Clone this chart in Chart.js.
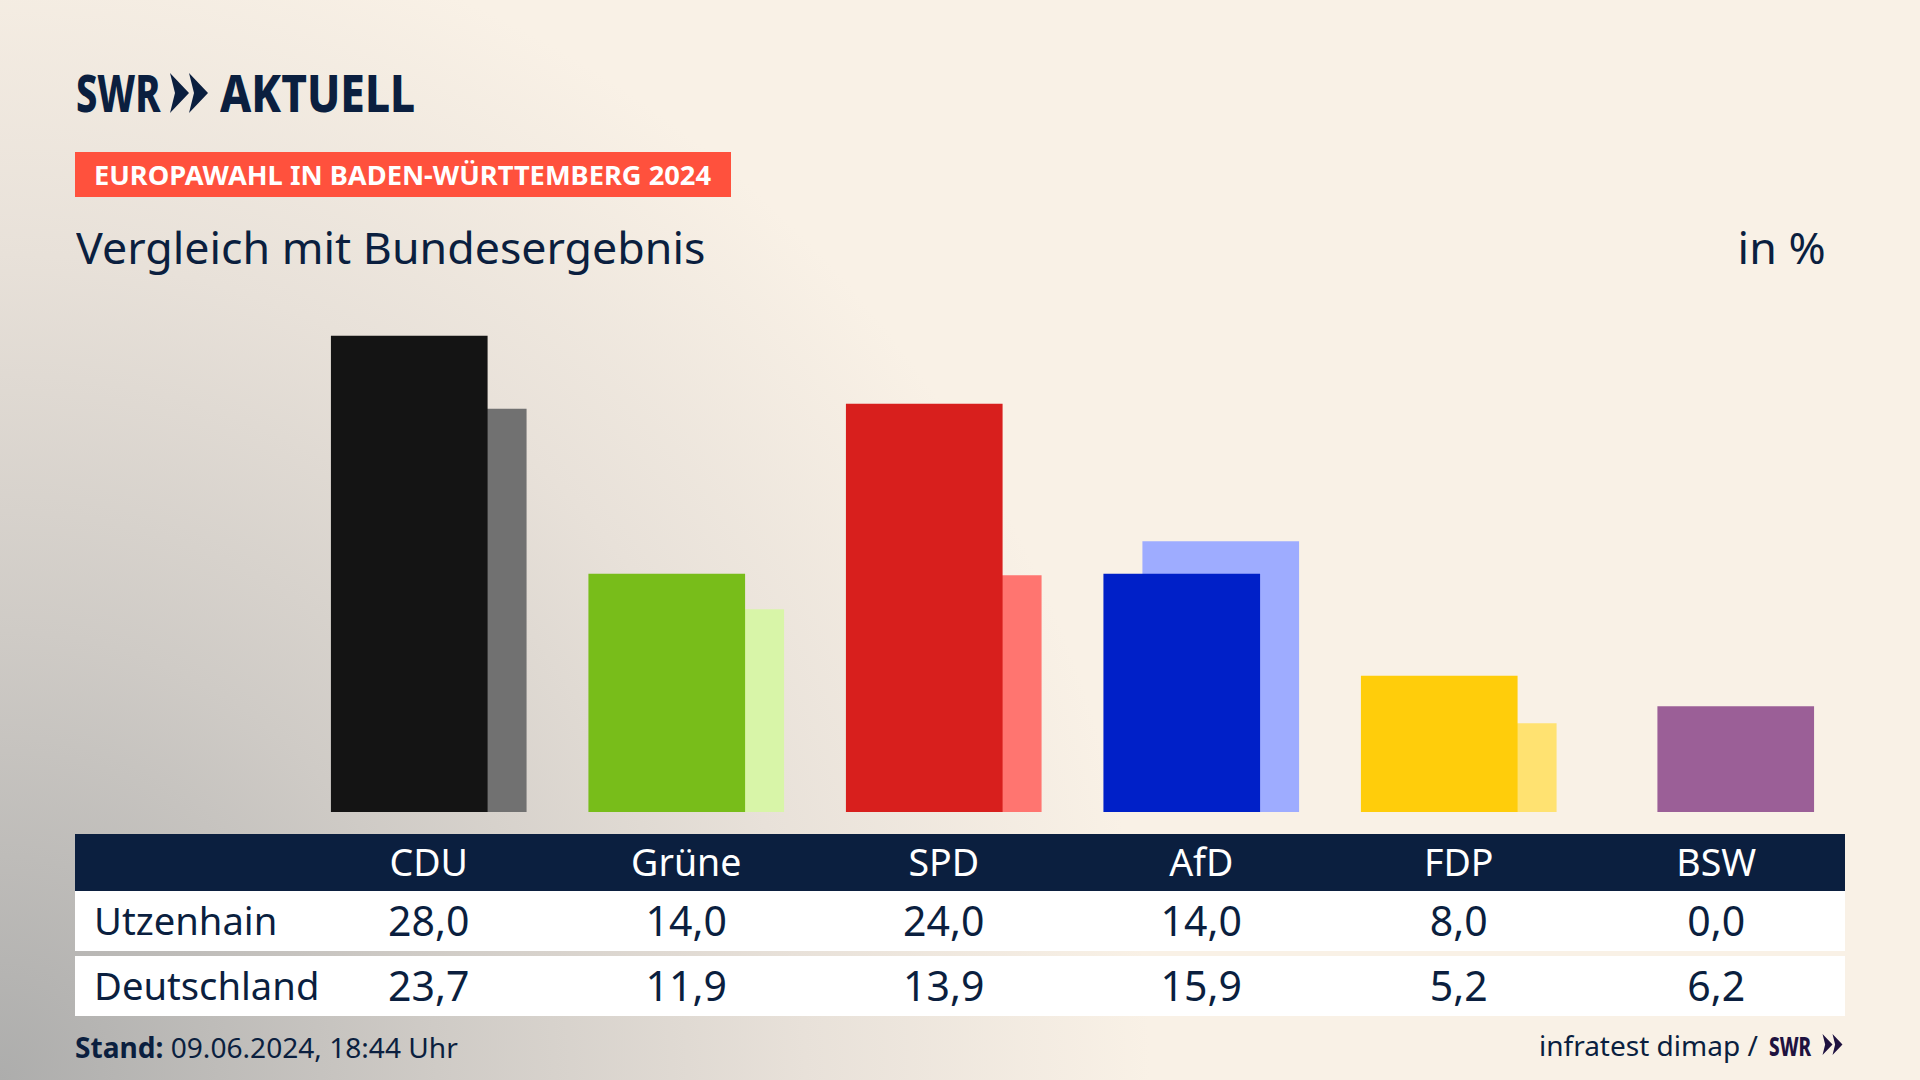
<!DOCTYPE html>
<html lang="de">
<head>
<meta charset="utf-8">
<title>Vergleich mit Bundesergebnis</title>
<script src="https://cdn.jsdelivr.net/npm/chart.js@4"></script>
<style>
    html, body { margin: 0; padding: 0; }
    body {
        position: relative;
        width: 1920px;
        height: 1080px;
        overflow: hidden;
        font-family: "Noto Sans", sans-serif;
        color: #0b1f3f;
        background: radial-gradient(ellipse 1150px 1180px at 0 100%, #adadac 0%, #cfcbc6 38%, #e8e1d9 70%, #f9f1e6 100%) #f9f1e6;
    }
    .abs { position: absolute; white-space: nowrap; line-height: 1; }
    .logo { font-weight: 800; transform-origin: left center; }
    #tag { left: 75px; top: 152px; width: 656px; height: 45px; background: #ff513d; }
    #tagText { left: 94px; top: 161px; font-size: 27.25px; font-weight: 700; color: #fff; }
    #title { left: 76px; top: 226px; font-size: 43px; transform: scaleX(1.04); transform-origin: left center; }
    #unit { right: 94px; top: 226px; font-size: 43px; transform: scaleX(1.04); transform-origin: right center; }
    #chartBox { position: absolute; left: 300px; top: 302px; width: 1545px; height: 510px; }
    #table { position: absolute; left: 75px; top: 834px; width: 1770px; }
    .row { display: grid; grid-template-columns: 225px repeat(6, 257.5px); font-size: 41px; align-items: center; }
    .row div { text-align: center; position: relative; top: -1px; }
    .row div:first-child { text-align: left; padding-left: 19px; font-size: 38.2px; }
    #head { height: 57px; background: #0b1f3f; color: #fff; font-size: 37.5px; }
    .data { height: 60px; background: #fff; }
    #row1 { margin-bottom: 5px; }
    #stand { left: 75px; top: 1033px; font-size: 28.1px; }
    #source { left: 1539px; top: 1031px; font-size: 28px; }
</style>
</head>
<body>
    <div class="abs logo" style="left:76px;top:66px;font-size:52px;transform:scaleX(.73);">SWR</div>
    <svg class="abs" style="left:170px;top:73px" width="38" height="40" viewBox="0 0 38 40" aria-hidden="true">
        <polygon points="0,0 19,20 0,40 5,20" fill="#0b1f3f"/>
        <polygon points="19,0 38,20 19,40 24,20" fill="#0b1f3f"/>
    </svg>
    <div class="abs logo" style="left:220px;top:66px;font-size:52px;transform:scaleX(.85);">AKTUELL</div>

    <div class="abs" id="tag"></div>
    <div class="abs" id="tagText">EUROPAWAHL IN BADEN-WÜRTTEMBERG 2024</div>
    <div class="abs" id="title">Vergleich mit Bundesergebnis</div>
    <div class="abs" id="unit">in %</div>

    <div id="chartBox"><canvas id="electionChart"></canvas></div>

    <div id="table">
        <div class="row" id="head"></div>
        <div class="row data" id="row1"></div>
        <div class="row data" id="row2"></div>
    </div>

    <div class="abs" id="stand"><b>Stand:</b> 09.06.2024, 18:44 Uhr</div>
    <div class="abs" id="source">infratest dimap /</div>
    <div class="abs logo" style="left:1769px;top:1032px;font-size:27px;color:#1f1240;transform:scaleX(.7);">SWR</div>
    <svg class="abs" style="left:1821px;top:1034px" width="23" height="21" viewBox="0 0 38 40" aria-hidden="true">
        <polygon points="0,0 19,20 0,40 5,20" fill="#1f1240"/>
        <polygon points="19,0 38,20 19,40 24,20" fill="#1f1240"/>
    </svg>

<script>
// values
const parties = ['CDU', 'Grüne', 'SPD', 'AfD', 'FDP', 'BSW'];
const utzenhain = [28.0, 14.0, 24.0, 14.0, 8.0, 0.0];
const deutschland = [23.7, 11.9, 13.9, 15.9, 5.2, 6.2];
const rowNames = ['Utzenhain', 'Deutschland'];
const partyColors = ['#141414', '#78bd1a', '#d81f1d', '#0020c8', '#ffcd0b', '#9b5f97'];
const nationalColors = ['#717171', '#d8f5a8', '#ff7570', '#9eacff', '#ffe271', '#9b5f97'];

function fmt(v) {
    return v.toFixed(1).replace('.', ',');
}

function fillRow(id, name, cells) {
    const row = document.getElementById(id);
    [name].concat(cells).forEach(text => {
        const d = document.createElement('div');
        d.textContent = text;
        row.appendChild(d);
    });
}

fillRow('head', '', parties);
fillRow('row1', rowNames[0], utzenhain.map(fmt));
fillRow('row2', rowNames[1], deutschland.map(fmt));

// two hidden x axes, shifted a bit against each other so the bars overlap
const SHIFT = 0.0757;

new Chart(document.getElementById('electionChart').getContext('2d'), {
    type: 'bar',
    data: {
        datasets: [
            {
                label: rowNames[0],
                data: utzenhain.map((v, i) => ({ x: i, y: v })),
                // a 0 bar still leaves a hairline on the canvas
                backgroundColor: ctx => ctx.parsed && ctx.parsed.y > 0 ? partyColors[ctx.dataIndex] : 'transparent',
                xAxisID: 'x',
                barThickness: 156,
                grouped: false,
                order: 1
            },
            {
                label: rowNames[1],
                data: deutschland.map((v, i) => ({ x: i, y: v })),
                backgroundColor: nationalColors,
                xAxisID: 'x2',
                barThickness: 156,
                grouped: false,
                order: 2
            }
        ]
    },
    options: {
        responsive: true,
        maintainAspectRatio: false,
        animation: false,
        layout: { padding: 0 },
        scales: {
            x: { type: 'linear', display: false, offset: false, min: -0.5 + SHIFT, max: 5.5 + SHIFT },
            x2: { type: 'linear', display: false, offset: false, min: -0.5 - SHIFT, max: 5.5 - SHIFT },
            y: { display: false, min: 0, max: 30 }
        },
        plugins: {
            legend: { display: false },
            tooltip: { enabled: false }
        }
    }
});
</script>
</body>
</html>
